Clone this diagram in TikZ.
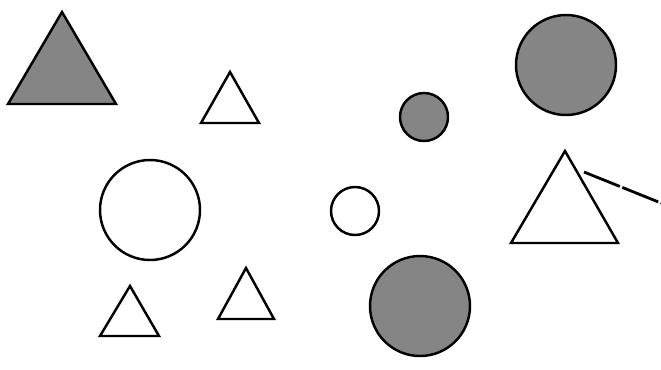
\documentclass[tikz,border=0pt]{standalone}
\usepackage{tikz}
\usepackage{xcolor}
\definecolor{shgray}{HTML}{858585}

\begin{document}
\begin{tikzpicture}[
  x=0.02cm, y=-0.02cm,
  hollow/.style={draw=black, line width=1.4pt, line join=miter},
  shaded/.style={draw=black, fill=shgray, line width=1.4pt, line join=miter},
  mark line/.style={draw=black, line width=1.6pt, dash pattern=on 22pt off 1.5pt},
]
  \useasboundingbox (0,0) rectangle (661,369);

  % Triangles
  \filldraw[shaded] (62,12) -- (116,104) -- (8,104) -- cycle;
  \draw[hollow] (230,72) -- (259,123) -- (201,123) -- cycle;
  \draw[hollow] (565,151) -- (618,243) -- (511,243) -- cycle;
  \draw[hollow] (130,286) -- (159,336) -- (100,336) -- cycle;
  \draw[hollow] (246,268) -- (274,319) -- (218,319) -- cycle;

  % Circles
  \filldraw[shaded] (566,65) circle (50);
  \filldraw[shaded] (424,117) circle (24);
  \filldraw[shaded] (420,306) circle (50);
  \draw[hollow] (150,210) circle (50);
  \draw[hollow] (355,211) circle (24);

  % Stroke at the right
  \draw[mark line] (584,172) -- (661,203);
\end{tikzpicture}
\end{document}
